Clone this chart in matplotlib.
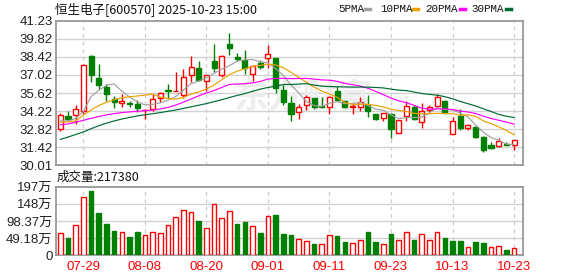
import matplotlib
matplotlib.use('Agg')
import matplotlib.pyplot as plt
import numpy as np
import pandas as pd
from matplotlib.lines import Line2D
from matplotlib.patches import Rectangle

# ---------------- data ----------------
dates = ["07-24", "07-25", "07-28", "07-29", "07-30", "07-31", "08-01",
         "08-04", "08-05", "08-06", "08-07", "08-08",
         "08-11", "08-12", "08-13", "08-14", "08-15",
         "08-18", "08-19", "08-20", "08-21", "08-22",
         "08-25", "08-26", "08-27", "08-28", "08-29",
         "09-01", "09-02", "09-03", "09-04", "09-05",
         "09-08", "09-09", "09-10", "09-11", "09-12",
         "09-15", "09-16", "09-17", "09-18", "09-19",
         "09-22", "09-23", "09-24", "09-25", "09-26",
         "09-29", "09-30", "10-09", "10-10",
         "10-13", "10-14", "10-15", "10-16", "10-17",
         "10-20", "10-21", "10-22", "10-23"]

opens = [32.80, 33.86, 33.89, 34.20, 38.52, 36.81, 36.06, 35.18, 34.87, 34.85,
         34.75, 34.30, 34.41, 35.27, 35.86, 35.77, 35.43, 37.03, 37.58, 36.52,
         38.13, 37.04, 39.39, 38.39, 38.21, 37.07, 37.95, 38.33, 38.31, 35.88,
         34.88, 34.12, 34.66, 35.26, 34.59, 34.56, 35.80, 34.97, 34.51, 34.56,
         34.72, 34.02, 33.70, 33.96, 32.55, 33.83, 34.57, 33.39, 34.29, 34.62,
         35.03, 32.42, 33.83, 32.93, 33.01, 32.24, 31.57, 31.47, 31.68, 31.60]
highs = [34.07, 34.20, 34.72, 37.85, 38.55, 37.90, 36.34, 35.41, 35.57, 35.03,
         35.08, 34.36, 35.54, 35.70, 36.33, 37.25, 37.48, 38.52, 38.13, 37.05,
         39.45, 38.55, 40.27, 38.72, 38.98, 37.77, 38.21, 39.37, 38.35, 36.22,
         35.36, 34.77, 35.49, 35.26, 35.28, 35.39, 36.14, 35.03, 34.85, 35.34,
         35.49, 34.02, 34.10, 34.08, 33.50, 35.03, 34.72, 34.85, 34.72, 35.54,
         35.05, 33.78, 34.34, 33.24, 33.06, 32.29, 31.78, 32.09, 31.80, 32.01]
lows = [32.70, 33.42, 33.22, 34.02, 36.45, 35.96, 35.03, 34.46, 34.51, 34.56,
        34.15, 33.62, 34.26, 34.95, 35.25, 35.74, 35.20, 36.45, 36.58, 35.75,
        37.25, 36.89, 38.54, 38.08, 37.10, 36.53, 37.48, 37.56, 35.65, 34.72,
        33.42, 33.60, 34.28, 34.38, 34.46, 34.02, 35.03, 34.46, 33.99, 34.25,
        33.79, 33.53, 33.44, 32.16, 32.52, 33.44, 33.52, 32.93, 34.16, 34.52,
        34.04, 32.40, 32.75, 32.73, 32.16, 31.06, 31.24, 31.45, 31.55, 31.22]
closes = [33.89, 33.60, 34.38, 37.82, 37.04, 36.27, 35.57, 34.92, 35.03, 34.77,
          34.43, 34.33, 35.15, 35.61, 35.79, 35.79, 36.89, 37.65, 36.62, 37.03,
          37.56, 38.49, 39.08, 38.26, 37.56, 37.71, 37.61, 38.65, 36.01, 34.92,
          34.02, 34.53, 35.28, 34.51, 34.51, 35.34, 35.08, 34.51, 34.61, 34.92,
          34.20, 33.60, 34.08, 32.80, 33.49, 34.65, 33.57, 34.21, 34.54, 35.31,
          34.06, 33.44, 32.91, 33.11, 32.21, 31.22, 31.39, 31.86, 31.60, 32.01]

# volume in 万 (10k shares)
volumes = [64.0, 49.7, 86.9, 167.1, 184.3, 121.3, 89.8, 69.7, 66.9, 52.5,
           66.9, 58.3, 66.9, 64.0, 86.9, 109.8, 129.9, 124.2, 98.4, 78.3,
           147.1, 107.0, 127.0, 90.7, 95.5, 84.0, 64.9, 112.7, 116.5, 62.1,
           58.3, 45.8, 40.1, 32.5, 32.5, 57.3, 55.4, 38.2, 34.4, 43.0,
           66.9, 38.2, 31.5, 61.1, 43.0, 65.9, 43.9, 60.2, 43.0, 65.9,
           49.7, 41.1, 41.1, 22.9, 38.2, 36.3, 22.9, 25.8, 15.3, 21.738]
# volume bar colour as shown (R = red hollow, G = green filled)
vol_dir = "RGRRGGGGRGGRRRRRRRGRRRRGGRGRGGGRRGRRGGRRGGRGRRGRRRGGGRGGRRGR"

# early moving-average values (before a full window exists)
ma5_head = [33.45, 33.45, 33.65, 34.20]
ma10_head = [33.35, 33.38, 33.45, 33.90, 34.30, 34.65, 34.90, 35.10, 35.25]
ma20_head = [33.15, 33.22, 33.35, 33.50, 33.65, 33.80, 33.92, 34.02, 34.10, 34.15,
             34.20, 34.25, 34.30, 34.38, 34.50, 34.68, 34.90, 35.15, 35.40]
ma30_head = [32.02, 32.20, 32.40, 32.60, 32.85, 33.08, 33.28, 33.45, 33.60, 33.72,
             33.84, 33.93, 34.01, 34.10, 34.20, 34.30, 34.42, 34.55, 34.67, 34.80,
             34.95, 35.10, 35.27, 35.43, 35.58, 35.75, 35.92, 36.05, 36.15]

price_ticks = [41.23, 39.82, 38.42, 37.02, 35.62, 34.22, 32.82, 31.42, 30.01]
price_tick_labels = ["41.23", "39.82", "38.42", "37.02", "35.62", "34.22", "32.82", "31.42", "30.01"]
vol_ticks = [196.72, 147.54, 98.37, 49.18, 0]
vol_tick_labels = ["197万", "148万", "98.37万", "49.18万", "0"]
date_tick_labels = ["07-29", "08-08", "08-20", "09-01", "09-11", "09-23", "10-13", "10-23"]

title_text = "恒生电子[600570] 2025-10-23 15:00"
vol_title = "成交量:217380"
ma_names = ["5PMA", "10PMA", "20PMA", "30PMA"]

# ---------------- styling ----------------
RED = "#ff0000"
GREEN = "#008000"
MA_COLORS = ["#a0a0a0", "#f0a000", "#ff00ff", "#006a35"]
FRAME = "#999999"
GRID = "#d2d2d2"
SANS = ["Liberation Sans", "Noto Sans CJK SC"]
CJK = ["Noto Sans CJK SC", "DejaVu Sans"]

W, H = 578, 276
fig = plt.figure(figsize=(W / 100, H / 100), dpi=100)
fig.patch.set_facecolor("white")


def fx(px):
    return px / W


def fy(py):
    return 1 - py / H


L, R = 56, 522.5
ax1 = fig.add_axes([fx(L), fy(165.3), fx(R) - fx(L), fy(20.7) - fy(165.3)])
ax2 = fig.add_axes([fx(L), fy(255.3), fx(R) - fx(L), fy(186.7) - fy(255.3)])

n = len(closes)
x = np.arange(n)
close_s = pd.Series(closes, dtype=float)


def moving_average(window, head):
    ma = close_s.rolling(window).mean().to_numpy()
    ma[:len(head)] = head
    return ma


mas = [moving_average(5, ma5_head), moving_average(10, ma10_head),
       moving_average(20, ma20_head), moving_average(30, ma30_head)]

tick_idx = [dates.index(d) for d in date_tick_labels]

for ax in (ax1, ax2):
    ax.set_xlim(-0.56, 60.1)
    for s in ax.spines.values():
        s.set_color(FRAME)
        s.set_linewidth(1.3)
    ax.tick_params(length=0)
    for t in tick_idx:
        ax.axvline(t, color="#cccccc", lw=0.9, ls=(0, (3, 3)), zorder=0)

# watermark
ax1.text(0.53, 0.47, "东方财富", transform=ax1.transAxes, ha="center", va="center",
         fontsize=25, color="#ededed", family=CJK, fontweight="bold", zorder=0.5)

# price panel
ax1.set_ylim(30.01, 41.23)
ax1.set_yticks(price_ticks)
ax1.set_yticklabels(price_tick_labels, family=SANS, fontsize=9.5, color="#222222")
for v in price_ticks[1:-1]:
    ax1.axhline(v, color=GRID, lw=1.0, zorder=0)
ax1.set_xticks([])
ax1.tick_params(axis="y", pad=2.5)

bw = 0.66
for i in range(n):
    o, h, l, c = opens[i], highs[i], lows[i], closes[i]
    up = c >= o
    col = RED if up else GREEN
    ax1.vlines(x[i], l, h, color=col, lw=1.0, zorder=3)
    bottom = min(o, c)
    height = max(abs(c - o), 0.03)
    ax1.add_patch(Rectangle((x[i] - bw / 2, bottom), bw, height,
                            facecolor="white" if up else GREEN,
                            edgecolor=col, lw=1.0, zorder=4))

for ma, col in zip(mas, MA_COLORS):
    ax1.plot(x, ma, color=col, lw=0.85, zorder=5)

# volume panel
ax2.set_ylim(0, 196.72)
ax2.set_yticks(vol_ticks)
ax2.set_yticklabels(vol_tick_labels, family=SANS, fontsize=9.5, color="#222222")
for v in vol_ticks[1:-1]:
    ax2.axhline(v, color=GRID, lw=1.0, zorder=0)
ax2.tick_params(axis="y", pad=2.5)
ax2.set_xticks(tick_idx)
ax2.set_xticklabels(date_tick_labels, family=SANS, fontsize=9.5, color=RED)
ax2.tick_params(axis="x", pad=4)

vw = 0.6
for i in range(n):
    up = vol_dir[i] == "R"
    ax2.add_patch(Rectangle((x[i] - vw / 2, 0), vw, volumes[i],
                            facecolor="white" if up else GREEN,
                            edgecolor=RED if up else GREEN, lw=1.0, zorder=3))

# texts
fig.text(fx(55), fy(9.5), title_text, family=CJK, fontsize=9.0, va="center", ha="left", color="#111111")
fig.text(fx(57), fy(177), vol_title, family=CJK, fontsize=9.0, va="center", ha="left", color="#111111")

# legend
leg_x = [338.5, 380, 425.5, 471.5]
dash_x = [365, 413, 459.5, 505.5]
for name, lx, dx, col in zip(ma_names, leg_x, dash_x, MA_COLORS):
    fig.text(fx(lx), fy(9.3), name, family=["Liberation Mono"], fontsize=7.8,
             va="center", ha="left", color="#111111")
    fig.add_artist(Line2D([fx(dx), fx(dx + 5)], [fy(9.3), fy(9.3)], color=col, lw=2.5,
                          transform=fig.transFigure))

fig.savefig("out.png", dpi=100, facecolor="white")
